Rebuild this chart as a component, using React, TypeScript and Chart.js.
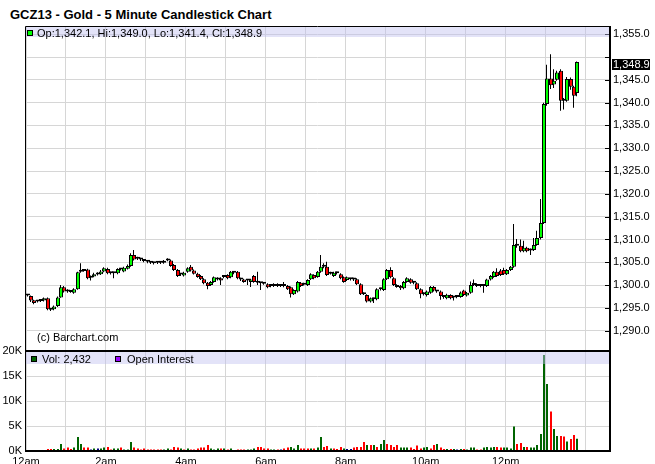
import React, { useEffect, useRef } from 'react';
import { Chart, registerables } from 'chart.js';

Chart.register(...registerables);

// ---- data (5-minute candles starting 12am) ----
const opens = [
  1297.7, 1297.6, 1296.7, 1296.4, 1296.5, 1296.6, 1297.1, 1294.7, 1294.7, 1295.4,
  1297.3, 1299.5, 1298.6, 1298.6, 1298.3, 1299.1, 1302.9, 1303.1, 1303.4, 1301.6,
  1301.9, 1302.3, 1302.4, 1303.0, 1303.5, 1302.6, 1302.6, 1302.6, 1303.5, 1303.0,
  1303.6, 1304.2, 1306.6, 1305.8, 1305.7, 1305.4, 1305.1, 1304.9, 1304.8, 1304.9,
  1304.9, 1304.9, 1305.4, 1305.4, 1304.4, 1303.3, 1302.3, 1302.1, 1302.9, 1304.0,
  1303.2, 1302.5, 1302.0, 1301.3, 1300.5, 1300.0, 1300.7, 1301.5, 1301.5, 1301.8,
  1302.2, 1301.7, 1302.8, 1302.9, 1301.3, 1301.2, 1301.0, 1300.7, 1302.0, 1300.6,
  1300.4, 1300.4, 1300.2, 1299.8, 1299.8, 1300.2, 1299.8, 1299.8, 1299.8, 1299.5,
  1298.0, 1298.6, 1300.5, 1300.1, 1300.0, 1301.3, 1302.2, 1301.8, 1302.9, 1304.0,
  1304.0, 1302.5, 1302.0, 1302.6, 1302.4, 1301.7, 1301.1, 1301.3, 1301.2, 1301.3,
  1300.2, 1298.1, 1297.8, 1296.4, 1296.9, 1296.9, 1299.1, 1298.9, 1301.3, 1303.3,
  1301.5, 1300.0, 1299.8, 1299.3, 1300.7, 1301.3, 1300.5, 1300.4, 1299.1, 1298.0,
  1297.8, 1298.3, 1299.6, 1298.6, 1298.6, 1297.4, 1297.1, 1297.8, 1297.3, 1297.4,
  1297.4, 1298.8, 1297.7, 1298.3, 1300.0, 1300.2, 1299.8, 1299.8, 1299.8, 1301.2,
  1301.8, 1302.9, 1303.2, 1303.3, 1302.4, 1303.3, 1304.0, 1309.0, 1308.6, 1307.4,
  1308.2, 1307.6, 1307.7, 1308.8, 1310.3, 1313.6, 1339.7, 1345.3, 1344.0, 1345.0,
  1347.0, 1340.6, 1340.4, 1345.2, 1343.5, 1342.1,
];
const highs = [
  1297.9, 1297.7, 1296.8, 1296.7, 1296.9, 1297.3, 1297.3, 1295.0, 1295.5, 1297.5,
  1300.0, 1299.8, 1299.1, 1298.8, 1299.3, 1302.9, 1304.8, 1303.4, 1303.6, 1302.1,
  1302.7, 1302.8, 1303.3, 1303.9, 1303.8, 1302.9, 1302.9, 1303.7, 1303.7, 1304.0,
  1304.5, 1307.0, 1307.7, 1306.2, 1306.0, 1305.7, 1305.5, 1305.2, 1305.1, 1305.2,
  1305.2, 1305.5, 1305.9, 1305.6, 1304.6, 1303.5, 1302.6, 1302.9, 1303.9, 1304.4,
  1303.4, 1302.7, 1302.2, 1301.5, 1300.7, 1300.9, 1301.9, 1301.7, 1301.7, 1302.1,
  1302.4, 1303.1, 1303.0, 1303.1, 1301.6, 1301.4, 1301.3, 1301.4, 1302.2, 1302.9,
  1300.7, 1300.6, 1300.4, 1300.1, 1300.4, 1300.4, 1300.1, 1300.7, 1300.0, 1299.7,
  1299.1, 1300.9, 1300.7, 1300.5, 1301.3, 1302.6, 1302.4, 1303.1, 1306.6, 1304.8,
  1305.1, 1302.9, 1302.9, 1302.9, 1302.6, 1301.9, 1301.9, 1301.5, 1301.6, 1301.5,
  1300.4, 1298.4, 1298.0, 1297.3, 1297.2, 1299.3, 1299.4, 1301.5, 1303.5, 1303.9,
  1301.7, 1300.2, 1300.0, 1300.9, 1301.7, 1301.5, 1300.8, 1300.6, 1299.3, 1298.4,
  1298.8, 1299.8, 1299.8, 1298.9, 1298.8, 1297.7, 1298.1, 1298.0, 1297.5, 1297.7,
  1298.6, 1299.0, 1298.5, 1300.8, 1301.2, 1300.4, 1300.1, 1300.0, 1301.4, 1302.2,
  1303.1, 1303.7, 1303.5, 1303.8, 1303.5, 1304.2, 1313.4, 1310.1, 1310.0, 1309.7,
  1308.4, 1308.0, 1310.3, 1311.9, 1318.9, 1340.0, 1348.3, 1350.6, 1347.3, 1347.0,
  1347.3, 1341.0, 1345.6, 1345.5, 1343.7, 1349.0,
];
const lows = [
  1297.5, 1296.3, 1295.8, 1296.2, 1296.3, 1296.4, 1294.5, 1294.3, 1294.5, 1295.2,
  1297.2, 1298.4, 1298.3, 1298.3, 1298.1, 1299.0, 1302.7, 1302.9, 1301.3, 1301.0,
  1301.7, 1302.1, 1302.2, 1302.8, 1302.4, 1302.3, 1301.5, 1302.4, 1303.2, 1302.8,
  1303.4, 1304.0, 1305.4, 1305.5, 1305.3, 1305.0, 1304.8, 1304.6, 1304.5, 1304.6,
  1304.6, 1304.7, 1305.2, 1304.0, 1303.1, 1301.8, 1302.0, 1301.9, 1302.7, 1303.0,
  1302.3, 1301.6, 1301.1, 1300.2, 1299.1, 1299.8, 1300.5, 1301.0, 1300.0, 1301.5,
  1301.3, 1301.5, 1302.4, 1301.3, 1300.9, 1300.5, 1300.0, 1299.6, 1300.5, 1300.0,
  1298.9, 1300.1, 1299.3, 1299.5, 1299.6, 1299.6, 1299.6, 1299.5, 1298.9, 1297.3,
  1297.8, 1298.4, 1299.6, 1299.9, 1299.8, 1301.1, 1301.3, 1301.6, 1302.7, 1303.7,
  1302.0, 1302.3, 1301.8, 1302.3, 1301.3, 1300.5, 1300.9, 1301.0, 1300.9, 1300.0,
  1297.8, 1297.8, 1296.2, 1296.2, 1296.1, 1296.7, 1298.8, 1298.7, 1301.1, 1301.5,
  1299.8, 1299.4, 1298.9, 1299.1, 1300.5, 1300.3, 1300.2, 1298.9, 1297.1, 1297.7,
  1297.5, 1298.1, 1298.6, 1298.3, 1296.8, 1297.0, 1296.9, 1296.9, 1296.6, 1297.1,
  1297.2, 1297.6, 1297.5, 1298.1, 1299.8, 1299.6, 1299.5, 1298.3, 1299.6, 1301.0,
  1301.6, 1301.8, 1302.0, 1302.2, 1302.2, 1303.1, 1303.8, 1308.2, 1307.2, 1307.2,
  1307.2, 1306.6, 1307.5, 1308.6, 1310.0, 1313.4, 1339.3, 1343.0, 1343.2, 1344.8,
  1338.2, 1338.5, 1340.2, 1342.8, 1338.9, 1341.4,
];
const closes = [
  1297.7, 1296.6, 1296.1, 1296.5, 1296.6, 1297.1, 1294.7, 1294.6, 1295.3, 1297.3,
  1299.5, 1298.6, 1298.7, 1298.5, 1299.1, 1302.8, 1303.2, 1303.2, 1301.5, 1301.6,
  1302.4, 1302.4, 1303.0, 1303.7, 1302.6, 1302.6, 1302.7, 1303.5, 1303.4, 1303.8,
  1304.2, 1306.6, 1305.6, 1305.9, 1305.6, 1305.3, 1305.1, 1304.9, 1304.8, 1304.9,
  1304.9, 1305.3, 1305.5, 1304.2, 1303.3, 1302.0, 1302.3, 1302.7, 1303.7, 1303.2,
  1302.5, 1301.8, 1301.3, 1300.4, 1299.8, 1300.7, 1301.7, 1301.2, 1301.0, 1301.8,
  1301.5, 1302.9, 1302.7, 1301.5, 1301.2, 1300.7, 1301.1, 1301.2, 1300.7, 1300.5,
  1300.4, 1300.3, 1299.5, 1299.8, 1300.2, 1299.8, 1299.8, 1299.9, 1299.1, 1298.0,
  1298.9, 1300.7, 1299.8, 1300.2, 1301.1, 1302.4, 1301.5, 1302.9, 1304.0, 1304.0,
  1302.2, 1302.6, 1302.7, 1302.6, 1301.5, 1300.7, 1301.7, 1301.3, 1301.3, 1300.2,
  1298.0, 1298.0, 1296.4, 1297.1, 1296.9, 1299.1, 1299.1, 1301.3, 1303.3, 1301.7,
  1300.0, 1299.6, 1299.3, 1300.7, 1301.5, 1300.5, 1300.5, 1299.1, 1298.0, 1298.1,
  1298.6, 1299.6, 1298.8, 1298.6, 1297.6, 1297.4, 1297.9, 1297.1, 1297.3, 1297.5,
  1298.4, 1297.8, 1298.3, 1300.0, 1300.1, 1299.8, 1299.8, 1299.8, 1301.2, 1302.0,
  1302.9, 1302.0, 1302.2, 1302.4, 1303.3, 1304.0, 1308.8, 1308.6, 1307.4, 1308.2,
  1307.4, 1307.7, 1308.8, 1310.3, 1313.6, 1339.7, 1345.3, 1343.8, 1344.8, 1346.6,
  1340.4, 1340.4, 1345.2, 1343.5, 1341.5, 1348.9,
];
// volume in thousands of contracts
const volumes = [
  0.1, 0.2, 0.1, 0.1, 0.1, 0.2, 0.4, 0.4, 0.4, 0.4,
  1.4, 0.5, 0.7, 0.4, 0.7, 2.8, 1.4, 0.7, 0.7, 0.3,
  0.5, 0.5, 0.5, 0.7, 0.8, 0.3, 0.5, 0.5, 0.7, 0.3,
  0.3, 1.8, 0.7, 0.5, 0.3, 0.5, 0.3, 0.3, 0.3, 0.3,
  0.3, 0.3, 0.5, 0.3, 0.8, 0.7, 0.5, 0.3, 0.5, 0.3,
  0.3, 0.5, 0.7, 0.7, 1.2, 0.5, 0.3, 0.5, 0.5, 0.5,
  0.3, 0.5, 0.1, 0.3, 0.3, 0.3, 0.3, 0.3, 0.5, 0.8,
  0.8, 0.5, 0.5, 0.3, 0.3, 0.3, 0.3, 0.5, 0.7, 0.8,
  0.5, 1.2, 0.5, 0.5, 0.5, 0.5, 0.5, 0.7, 2.8, 0.8,
  1.0, 0.5, 0.5, 0.4, 0.8, 0.5, 0.4, 0.4, 0.7, 0.8,
  0.8, 1.8, 1.2, 1.2, 1.2, 0.8, 1.4, 2.2, 1.4, 1.2,
  0.8, 1.2, 0.7, 0.7, 0.7, 0.7, 0.4, 1.1, 0.5, 0.7,
  0.8, 0.5, 1.2, 1.4, 0.7, 0.4, 0.4, 0.4, 0.4, 0.3,
  0.4, 0.4, 0.3, 0.7, 0.7, 0.3, 0.3, 0.7, 0.8, 0.7,
  0.8, 0.8, 0.7, 0.7, 0.7, 0.5, 4.9, 1.4, 1.6, 0.8,
  0.8, 0.7, 0.7, 1.2, 3.4, 19.2, 13.4, 7.9, 4.4, 3.0,
  3.0, 2.9, 1.9, 2.4, 3.2, 2.432,
];
// g = up, r = down, n = unchanged
const volumeDirs = (
  'n r n n n g r r g g ' + 'g r r r g g g r r n ' + 'g n g g r r g g r g ' +
  'g g r r r r r r r r ' + 'r g g r r r g r g r ' + 'r r r r r g g g r g ' +
  'r g n r r r g g g r ' + 'r r r g g r n r r g ' + 'g g r r r g r g g r ' +
  'r g r r r g n n r r ' + 'r r g r g r g g r r ' + 'r r g g g r r r r g ' +
  'g r r g r r g r g n ' + 'g r g g g r r g g g ' + 'g r r g g g g r r g ' +
  'r g g g g g g r g g ' + 'r r g r r g'
).split(' ');

const priceTicks = [1290, 1295, 1300, 1305, 1310, 1315, 1320, 1325, 1330, 1335, 1340, 1345, 1350, 1355];
const volumeTicks = [0, 5, 10, 15, 20];
const timeTickLabels = ['12am', '2am', '4am', '6am', '8am', '10am', '12pm'];
const hourTicks = [0, 60, 120, 180, 240, 300, 360, 420, 480, 540, 600, 660, 720, 780, 840];

const BAR_MINUTES = 5;
const X_MAX = 875;
const PRICE_MIN = 1285.55;
const PRICE_MAX = 1356.8;
const VOL_MAX = 20;

const FONT = '"Liberation Sans", Arial, sans-serif';
const GRID = '#d6d6d6';

const candleX = (i: number) => i * BAR_MINUTES + BAR_MINUTES / 2;
const fmtPrice = (v: number) =>
  v.toLocaleString('en-US', { minimumFractionDigits: 1, maximumFractionDigits: 1 });

const noPad = (s: any) => {
  s.paddingTop = 0;
  s.paddingBottom = 0;
  s.paddingLeft = 0;
  s.paddingRight = 0;
};

// snap bar elements to whole pixels so thin marks stay crisp
const pixelSnap = {
  id: 'pixelSnap',
  beforeDatasetsDraw(chart: any) {
    chart.data.datasets.forEach((ds: any, di: number) => {
      const meta = chart.getDatasetMeta(di);
      const odd = (ds.barThickness || 2) % 2 === 1;
      meta.data.forEach((el: any) => {
        el.x = odd ? Math.round(el.x) - 0.5 : Math.round(el.x);
      });
    });
  },
};

export default function App() {
  const priceRef = useRef<HTMLCanvasElement>(null);
  const volRef = useRef<HTMLCanvasElement>(null);

  useEffect(() => {
    Chart.defaults.font.family = FONT;
    Chart.defaults.font.size = 11;
    Chart.defaults.color = '#000';

    const last = closes[closes.length - 1];
    const bodyColors = opens.map((o, i) =>
      closes[i] > o ? '#00ff00' : closes[i] < o ? '#ff0000' : '#000000'
    );

    const priceFrame = {
      id: 'priceFrame',
      afterDraw(chart: any) {
        const { ctx, chartArea: a, scales } = chart;
        ctx.save();
        ctx.strokeStyle = '#000';
        ctx.lineWidth = 1;
        ctx.beginPath();
        ctx.moveTo(a.left - 0.5, a.bottom);
        ctx.lineTo(a.left - 0.5, a.top + 0.5);
        ctx.lineTo(a.right + 0.5, a.top + 0.5);
        ctx.stroke();
        ctx.lineWidth = 2;
        ctx.beginPath();
        ctx.moveTo(a.right + 1, a.top);
        ctx.lineTo(a.right + 1, a.bottom);
        ctx.moveTo(a.left - 1, a.bottom);
        ctx.lineTo(a.right + 2, a.bottom);
        ctx.stroke();
        // small inside tick marks on the price axis
        ctx.lineWidth = 1;
        ctx.beginPath();
        priceTicks.forEach((t) => {
          const y = Math.round(scales.y.getPixelForValue(t)) + 0.5;
          ctx.moveTo(a.right - 4, y);
          ctx.lineTo(a.right, y);
        });
        ctx.stroke();
        // last price box
        const ly = scales.y.getPixelForValue(last) + 2;
        ctx.fillStyle = '#000';
        ctx.fillRect(a.right + 3, Math.round(ly - 5), 38, 11);
        ctx.fillStyle = '#fff';
        ctx.font = '11px ' + FONT;
        ctx.textBaseline = 'middle';
        ctx.textAlign = 'left';
        ctx.fillText(fmtPrice(last), a.right + 4, ly + 0.5);
        ctx.restore();
      },
    };

    const volFrame = {
      id: 'volFrame',
      afterDraw(chart: any) {
        const { ctx, chartArea: a } = chart;
        ctx.save();
        ctx.strokeStyle = '#000';
        ctx.lineWidth = 1;
        ctx.beginPath();
        ctx.moveTo(a.left - 0.5, a.top);
        ctx.lineTo(a.left - 0.5, a.bottom);
        ctx.stroke();
        ctx.lineWidth = 2;
        ctx.beginPath();
        ctx.moveTo(a.left - 1, a.top);
        ctx.lineTo(a.right + 2, a.top);
        ctx.moveTo(a.right + 1, a.top);
        ctx.lineTo(a.right + 1, a.bottom);
        ctx.moveTo(a.left - 1, a.bottom);
        ctx.lineTo(a.right + 2, a.bottom);
        ctx.stroke();
        ctx.restore();
      },
    };

    const xScaleBase = {
      type: 'linear' as const,
      min: 0,
      max: X_MAX,
      offset: false,
      afterBuildTicks: (s: any) => {
        s.ticks = hourTicks.map((v) => ({ value: v }));
      },
      grid: { color: GRID, drawTicks: false, offset: false },
      border: { display: false },
    };

    const priceChart = new Chart(priceRef.current!, {
      type: 'bar',
      data: {
        datasets: [
          {
            label: 'bodies',
            order: 0,
            data: opens.map((o, i) => ({ x: candleX(i), y: [o, closes[i]] })) as any,
            backgroundColor: bodyColors,
            borderColor: '#000',
            borderWidth: 1,
            borderSkipped: false,
            barThickness: 4,
            minBarLength: 2,
            grouped: false,
            inflateAmount: 0,
          } as any,
          {
            label: 'wicks',
            order: 1,
            data: highs.map((h, i) => ({ x: candleX(i), y: [lows[i], h] })) as any,
            backgroundColor: '#000',
            borderWidth: 0,
            barThickness: 1,
            grouped: false,
            inflateAmount: 0,
          } as any,
        ],
      },
      options: {
        responsive: false,
        animation: false,
        events: [],
        layout: { padding: { left: 26, top: 26, right: 0, bottom: 1 } },
        plugins: { legend: { display: false }, tooltip: { enabled: false }, title: { display: false } },
        scales: {
          x: {
            ...xScaleBase,
            ticks: { display: false },
            afterFit: (s: any) => {
              s.height = 0;
              noPad(s);
            },
          },
          y: {
            type: 'linear',
            position: 'right',
            min: PRICE_MIN,
            max: PRICE_MAX,
            afterBuildTicks: (s: any) => {
              s.ticks = priceTicks.map((v) => ({ value: v }));
            },
            afterFit: (s: any) => {
              s.width = 46;
              noPad(s);
            },
            grid: { color: GRID, drawTicks: false },
            border: { display: false },
            ticks: {
              padding: 4,
              autoSkip: false,
              font: { size: 11, family: FONT },
              color: '#000',
              callback: (v: any) => (Math.abs(Number(v) - last) < 2.6 ? '' : fmtPrice(Number(v))),
            },
          },
        },
      } as any,
      plugins: [pixelSnap, priceFrame],
    });

    const volChart = new Chart(volRef.current!, {
      type: 'bar',
      data: {
        datasets: [
          {
            label: 'volume',
            data: volumes.map((v, i) => ({ x: candleX(i), y: v })) as any,
            backgroundColor: volumeDirs.map((d) =>
              d === 'g' ? '#006400' : d === 'r' ? '#ff0000' : '#000080'
            ),
            borderWidth: 0,
            barThickness: 2,
            grouped: false,
            inflateAmount: 0,
          } as any,
        ],
      },
      options: {
        responsive: false,
        animation: false,
        events: [],
        layout: { padding: { left: 0, top: 11, right: 46, bottom: 0 } },
        plugins: { legend: { display: false }, tooltip: { enabled: false }, title: { display: false } },
        scales: {
          x: {
            ...xScaleBase,
            ticks: {
              autoSkip: false,
              maxRotation: 0,
              padding: 4,
              font: { size: 11, family: FONT },
              color: '#000',
              callback: (v: any) => {
                const n = Number(v);
                const k = n / 120;
                return n % 120 === 0 && k < timeTickLabels.length ? timeTickLabels[k] : '';
              },
            },
            afterFit: (s: any) => {
              s.height = 13;
              noPad(s);
            },
          },
          y: {
            type: 'linear',
            position: 'left',
            min: 0,
            max: VOL_MAX,
            afterBuildTicks: (s: any) => {
              s.ticks = volumeTicks.map((v) => ({ value: v }));
            },
            afterFit: (s: any) => {
              s.width = 26;
              noPad(s);
            },
            grid: { color: GRID, drawTicks: false },
            border: { display: false },
            ticks: {
              padding: 4,
              autoSkip: false,
              font: { size: 11, family: FONT },
              color: '#000',
              callback: (v: any) => `${v}K`,
            },
          },
        },
      } as any,
      plugins: [pixelSnap, volFrame],
    });

    return () => {
      priceChart.destroy();
      volChart.destroy();
    };
  }, []);

  const txt: React.CSSProperties = {
    position: 'absolute',
    font: `11px ${FONT}`,
    lineHeight: '11px',
    whiteSpace: 'nowrap',
    color: '#000',
  };
  const sq = (left: number, top: number, bg: string): React.CSSProperties => ({
    position: 'absolute',
    left,
    top,
    width: 6,
    height: 6,
    boxSizing: 'border-box',
    border: '1px solid #000',
    background: bg,
  });

  return (
    <div
      style={{
        position: 'absolute',
        left: 0,
        top: 0,
        width: 655,
        height: 464,
        background: '#fff',
        overflow: 'hidden',
        fontFamily: FONT,
      }}
    >
      <div
        style={{
          position: 'absolute',
          left: 10,
          top: 7,
          font: `bold 13px ${FONT}`,
          lineHeight: '15px',
          whiteSpace: 'nowrap',
          color: '#000',
        }}
      >
        GCZ13 - Gold - 5 Minute Candlestick Chart
      </div>
      <canvas
        ref={priceRef}
        width={655}
        height={352}
        style={{ position: 'absolute', left: 0, top: 0, width: 655, height: 352 }}
      />
      <canvas
        ref={volRef}
        width={655}
        height={124}
        style={{ position: 'absolute', left: 0, top: 340, width: 655, height: 124 }}
      />
      {/* price legend strip */}
      <div
        style={{
          position: 'absolute',
          left: 26,
          top: 27,
          width: 583,
          height: 10,
          background: 'rgba(192,192,240,0.45)',
        }}
      />
      <div style={sq(27, 30, '#00ff00')} />
      <div style={{ ...txt, left: 37, top: 28 }}>Op:1,342.1, Hi:1,349.0, Lo:1,341.4, Cl:1,348.9</div>
      <div style={{ ...txt, left: 37, top: 332 }}>(c) Barchart.com</div>
      {/* volume legend strip */}
      <div
        style={{
          position: 'absolute',
          left: 26,
          top: 352,
          width: 583,
          height: 12,
          background: 'rgba(192,192,240,0.45)',
        }}
      />
      <div style={sq(31, 356, '#006400')} />
      <div style={{ ...txt, left: 42, top: 354 }}>Vol: 2,432</div>
      <div style={sq(115, 356, '#9900ff')} />
      <div style={{ ...txt, left: 127, top: 354 }}>Open Interest</div>
    </div>
  );
}
